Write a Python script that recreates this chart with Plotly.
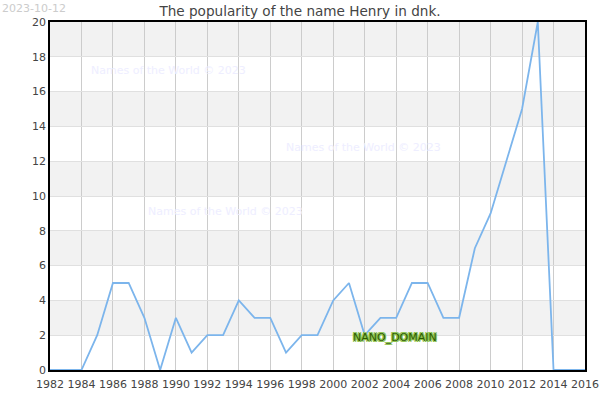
import plotly.graph_objects as go

years = list(range(1982, 2017))
counts = [0, 0, 0, 2, 5, 5, 3, 0, 3, 1, 2, 2, 4, 3, 3, 1, 2, 2, 4, 5,
          2, 3, 3, 5, 5, 3, 3, 7, 9, 12, 15, 20, 0, 0, 0]
band_starts = [2, 6, 10, 14, 18]
x_ticks = list(range(1982, 2017, 2))
y_ticks = list(range(0, 21, 2))

title = "The popularity of the name Henry in dnk."
date_label = "2023-10-12"
watermark = "Names of the World © 2023"
watermark_pos = [(1984.5, 17.2), (1996.9, 12.8), (1988.1, 9.1)]

fig = go.Figure()
fig.add_trace(go.Scatter(x=years, y=counts, mode="lines",
                         line=dict(color="#7cb5ec", width=1.8),
                         hoverinfo="x+y", showlegend=False))

shapes = []
for b in band_starts:
    shapes.append(dict(type="rect", xref="paper", yref="y", x0=0, x1=1,
                       y0=b, y1=b + 2, fillcolor="#f2f2f2", line_width=0,
                       layer="below"))
annotations = []
for (wx, wy) in watermark_pos:
    annotations.append(dict(x=wx, y=wy, xref="x", yref="y", text=watermark,
                            showarrow=False, xanchor="left",
                            font=dict(family="DejaVu Sans", size=11, color="#eeeeff")))
annotations.append(dict(x=0, y=1, xref="paper", yref="paper", yanchor="top",
                        xanchor="left", xshift=-50, yshift=22, text=date_label,
                        showarrow=False,
                        font=dict(family="DejaVu Sans", size=11, color="#cccccc")))
annotations.append(dict(x=2003.95, y=1.85, xref="x", yref="y", text="NANO_DOMAIN",
                        showarrow=False,
                        font=dict(family="DejaVu Sans", size=11, color="#2e5a00",
                                  shadow="1px 1px 0 #8bc34a, -1px -1px 0 #8bc34a, 1px -1px 0 #8bc34a, -1px 1px 0 #8bc34a")))

fig.update_layout(
    width=600, height=400,
    margin=dict(l=50, r=15, t=22, b=30, autoexpand=False),
    paper_bgcolor="white", plot_bgcolor="white",
    title=dict(text=title, x=0.5, xanchor="center", y=0.985, yanchor="top",
               font=dict(family="DejaVu Sans", size=13.6, color="#444444")),
    font=dict(family="DejaVu Sans", size=11, color="#444444"),
    shapes=shapes, annotations=annotations,
    xaxis=dict(range=[1982, 2016], tickvals=x_ticks, showgrid=True,
               gridcolor="#cccccc", gridwidth=1, zeroline=False, automargin=False,
               showline=True, linecolor="black", linewidth=1.5, mirror=True,
               ticks="", ticklabelstandoff=3, tickfont=dict(size=11, color="#444444")),
    yaxis=dict(range=[0, 20], tickvals=y_ticks, showgrid=True,
               gridcolor="#e0e0e0", gridwidth=1, zeroline=False, automargin=False,
               showline=True, linecolor="black", linewidth=1.5, mirror=True,
               ticks="", tickfont=dict(size=11, color="#444444")),
)

fig.write_html("out.html", config={"displayModeBar": False},
               post_script="document.body.style.margin='0';document.body.style.overflow='hidden';")
